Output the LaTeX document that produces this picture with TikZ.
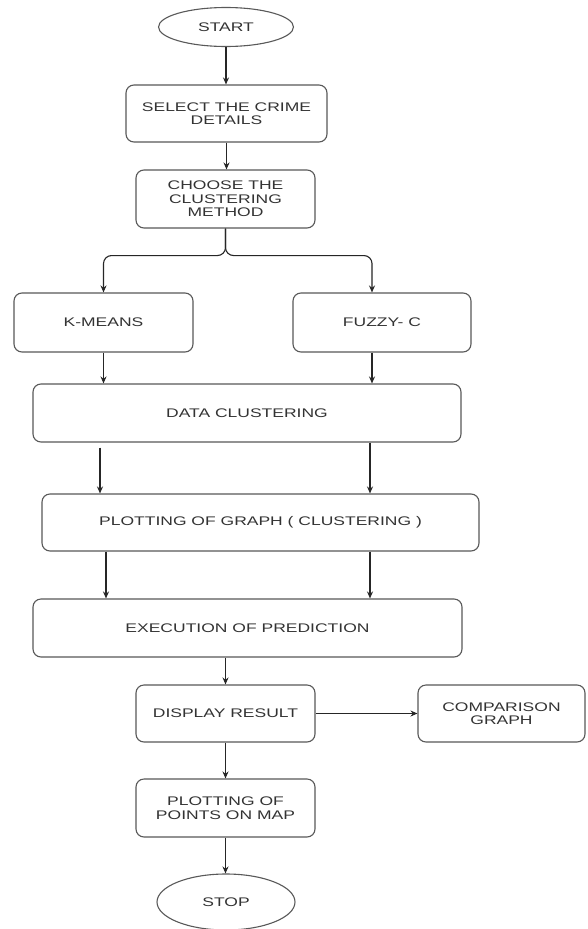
\documentclass[tikz,border=0pt]{standalone}
\usepackage{fontspec}
\setmainfont{Liberation Sans}[FakeStretch=1.4]
\usetikzlibrary{shapes.geometric,arrows.meta,calc}
\begin{document}
\begin{tikzpicture}[x=1pt,y=-1pt,
  txt/.style={font=\fontsize{12.5}{13.5}\selectfont, text=black!80, align=center, inner sep=0pt},
  box/.style={txt, draw=black!65, line width=1.1pt, rounded corners=8pt},
  term/.style={txt, ellipse, draw=black!65, line width=1.1pt},
  arr/.style={draw=black!85, line width=1.1pt, -{Stealth[length=7pt,width=6pt]}}]
\fill[white] (0,0) rectangle (587,929);
\useasboundingbox (0,0) rectangle (587,929);

\node[term, minimum width=135pt, minimum height=39pt] (start) at (226,27) {START};
\node[box, minimum width=201pt, minimum height=57pt] (select) at (226.5,113.5) {SELECT THE CRIME\\DETAILS};
\node[box, minimum width=179pt, minimum height=58pt] (choose) at (225.5,199) {CHOOSE THE\\CLUSTERING\\METHOD};
\node[box, minimum width=179pt, minimum height=59pt] (kmeans) at (103.5,322.5) {K-MEANS};
\node[box, minimum width=178pt, minimum height=59pt] (fuzzy) at (382,322.5) {FUZZY- C};
\node[box, minimum width=428pt, minimum height=58pt] (data) at (247,413) {DATA CLUSTERING};
\node[box, minimum width=437pt, minimum height=57pt] (plotg) at (260.5,522.5) {PLOTTING OF GRAPH ( CLUSTERING )};
\node[box, minimum width=429pt, minimum height=58pt] (exec) at (247.5,628) {EXECUTION OF PREDICTION};
\node[box, minimum width=179pt, minimum height=57pt] (disp) at (225.5,713.5) {DISPLAY RESULT};
\node[box, minimum width=167pt, minimum height=57pt] (comp) at (501.5,713.5) {COMPARISON\\GRAPH};
\node[box, minimum width=179pt, minimum height=58pt] (plotp) at (225.5,808) {PLOTTING OF\\POINTS ON MAP};
\node[term, minimum width=138pt, minimum height=56pt] (stop) at (226,902) {STOP};

\coordinate (cL) at (103.5,0);
\coordinate (cL2) at (100,0);
\coordinate (cL3) at (106,0);
\coordinate (cR) at (372,0);
\coordinate (cR2) at (370,0);

\draw[arr] (start.south) -- (start.south |- select.north);
\draw[arr] (select.south) -- (select.south |- choose.north);
\draw[arr, rounded corners=8pt] (choose.south) -- ++(0,27) -| (cL |- kmeans.north);
\draw[arr, rounded corners=8pt] (choose.south) -- ++(0,27) -| (cR |- fuzzy.north);
\draw[arr] (cL |- kmeans.south) -- (cL |- data.north);
\draw[arr] (cR |- fuzzy.south) -- (cR |- data.north);
\draw[arr] ($(cL2 |- data.south)+(0,5)$) -- (cL2 |- plotg.north);
\draw[arr] (cR2 |- data.south) -- (cR2 |- plotg.north);
\draw[arr] (cL3 |- plotg.south) -- (cL3 |- exec.north);
\draw[arr] (cR2 |- plotg.south) -- (cR2 |- exec.north);
\draw[arr] (disp.north |- exec.south) -- (disp.north);
\draw[arr] (disp.east) -- (comp.west);
\draw[arr] (disp.south) -- (plotp.north);
\draw[arr] (plotp.south) -- (plotp.south |- stop.north);
\end{tikzpicture}
\end{document}
